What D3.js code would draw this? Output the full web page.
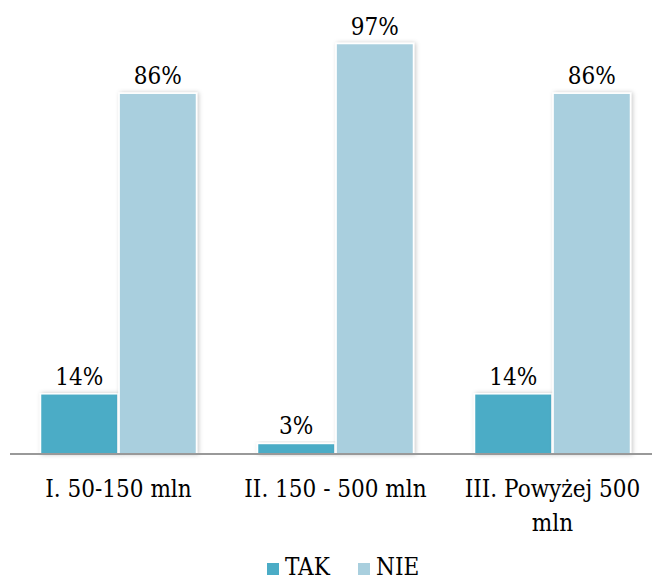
<!DOCTYPE html>
<html><head><meta charset="utf-8">
<script src="https://cdn.jsdelivr.net/npm/d3@7"></script>
<style>body{margin:0;background:#fff}</style>
</head><body>
<svg id="c" width="652" height="582"></svg>
<script>
const categories = ["I. 50-150 mln", "II. 150 - 500 mln", "III. Powyżej 500 mln"];
const seriesNames = ["TAK", "NIE"];
const takValues = [14.3, 2.5, 14.3];
const nieValues = [85.7, 97.5, 85.7];
const takLabels = ["14%", "3%", "14%"];
const nieLabels = ["86%", "97%", "86%"];
const colors = ["#4bacc6", "#a9cfde"];

const svg = d3.select("#c");
const font = "'DejaVu Serif Condensed', 'DejaVu Serif', serif";
const fs = 24;
const x0 = d3.scaleBand().domain(categories).range([10, 661]).paddingInner(0).paddingOuter(0);
const x1 = d3.scaleBand().domain(seriesNames).range([30.5, 186.5]).paddingInner(0.015);
const y = d3.scaleLinear().domain([0, 100]).range([454, 33]);

const defs = svg.append("defs");
const f = defs.append("filter").attr("id","sh").attr("x","-20%").attr("y","-20%").attr("width","140%").attr("height","140%");
f.append("feDropShadow").attr("dx",1.5).attr("dy",0).attr("stdDeviation",2).attr("flood-color","#000").attr("flood-opacity",0.22);

const rows = categories.map((c,i)=>({cat:c, vals:[
  {s:"TAK", v:takValues[i], l:takLabels[i]},
  {s:"NIE", v:nieValues[i], l:nieLabels[i]}]}));

const g = svg.selectAll("g.cat").data(rows).join("g").attr("class","cat")
  .attr("transform", d=>`translate(${x0(d.cat)},0)`);
g.selectAll("rect").data(d=>d.vals).join("rect")
  .attr("x", d=>x1(d.s)).attr("width", x1.bandwidth())
  .attr("y", d=>y(d.v)).attr("height", d=>y(0)-y(d.v))
  .attr("fill", (d,i)=>colors[i]).attr("stroke","#fff").attr("stroke-width",1.5)
  .attr("filter","url(#sh)");
g.selectAll("text.lbl").data(d=>d.vals).join("text").attr("class","lbl")
  .attr("x", d=>x1(d.s)+x1.bandwidth()/2).attr("y", d=>y(d.v)-9)
  .attr("text-anchor","middle").attr("font-family",font).attr("font-size",fs).attr("fill","#000")
  .text(d=>d.l);

// axis
const ax = svg.append("g").attr("transform","translate(0,454)").call(d3.axisBottom(x0).tickSize(0).tickFormat(""));
ax.select(".domain").attr("stroke","#999").attr("stroke-width",2).attr("d","M10,0H652");

// category labels with wrapping
const catLines = [["I. 50-150 mln"],["II. 150 - 500 mln"],["III. Powyżej 500","mln"]];
categories.forEach((c,i)=>{
  const t = svg.append("text").attr("text-anchor","middle").attr("font-family",font).attr("font-size",fs).attr("fill","#000");
  catLines[i].forEach((ln,j)=>{
    t.append("tspan").attr("x", x0(c)+x0.bandwidth()/2).attr("y", 497 + j*34).text(ln);
  });
});

// legend
const leg = [{n:"TAK", x:267},{n:"NIE", x:358}];
leg.forEach((d,i)=>{
  svg.append("rect").attr("x",d.x).attr("y",563).attr("width",12).attr("height",12).attr("fill",colors[i]);
  svg.append("text").attr("x",d.x+18).attr("y",575).attr("font-family",font).attr("font-size",fs).attr("fill","#000").text(d.n);
});
</script>
</body></html>
